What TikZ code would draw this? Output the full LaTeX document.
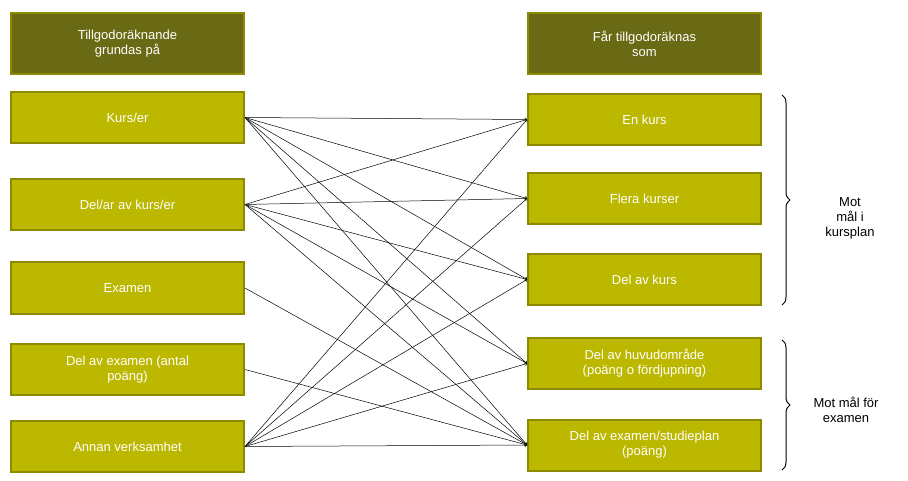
\documentclass[tikz,border=0pt]{standalone}
\usepackage{fontspec}
\setmainfont{Liberation Sans}
\usetikzlibrary{positioning,decorations.pathreplacing}
\definecolor{boxfill}{HTML}{BCB800}
\definecolor{boxline}{HTML}{8C8A00}
\definecolor{headfill}{HTML}{6B6A14}
\begin{document}
\begin{tikzpicture}[x=1pt,y=-1pt,
  box/.style={draw=boxline,line width=2pt,fill=boxfill,text=white,minimum width=233pt,minimum height=51pt,align=center,font=\fontsize{13}{15}\selectfont,inner sep=2pt},
  head/.style={box,fill=headfill,minimum height=61pt},
  link/.style={->,black,line width=0.5pt},
  side/.style={align=center,font=\fontsize{13}{15}\selectfont}]
  \useasboundingbox (0,0) rectangle (908,481);

  \node[head] (lh) at (127.5,43.5) {Tillgodoräknande\\grundas  på};
  \node[head] (rh) at (644.5,43.5) {Får tillgodoräknas\\som};

  \node[box] (l1) at (127.5,117.5) {Kurs/er};
  \node[box] (l2) at (127.5,204.5) {Del/ar av kurs/er};
  \node[box] (l3) at (127.5,288) {Examen};
  \node[box] (l4) at (127.5,369.5) {Del av examen (antal\\poäng)};
  \node[box] (l5) at (127.5,446.5) {Annan verksamhet};

  \node[box] (r1) at (644.5,119.5) {En kurs};
  \node[box] (r2) at (644.5,198.5) {Flera kurser};
  \node[box] (r3) at (644.5,279.5) {Del av kurs};
  \node[box] (r4) at (644.5,363.5) {Del av huvudområde\\(poäng o fördjupning)};
  \node[box] (r5) at (644.5,445) {Del av examen/studieplan\\(poäng)};

  \foreach \a in {l1,l2,l5}
    \foreach \b in {r1,r2,r3,r4,r5}
      \draw[link] (\a.east) -- (\b.west);
  \draw[link] (l3.east) -- (r5.west);
  \draw[link] (l4.east) -- (r5.west);

  \draw[line width=1pt,decorate,decoration={brace,amplitude=8pt}] (782,95) coordinate (b1) -- (782,305) coordinate (b2);
  \draw[line width=1pt,decorate,decoration={brace,amplitude=8pt}] (782,340) coordinate (b3) -- (782,470) coordinate (b4);
  \node[side] (k1) at (850,218) {Mot\\mål i\\kursplan};
  \node[side] (k2) at (846,410) {Mot mål för\\examen};
\end{tikzpicture}
\end{document}
